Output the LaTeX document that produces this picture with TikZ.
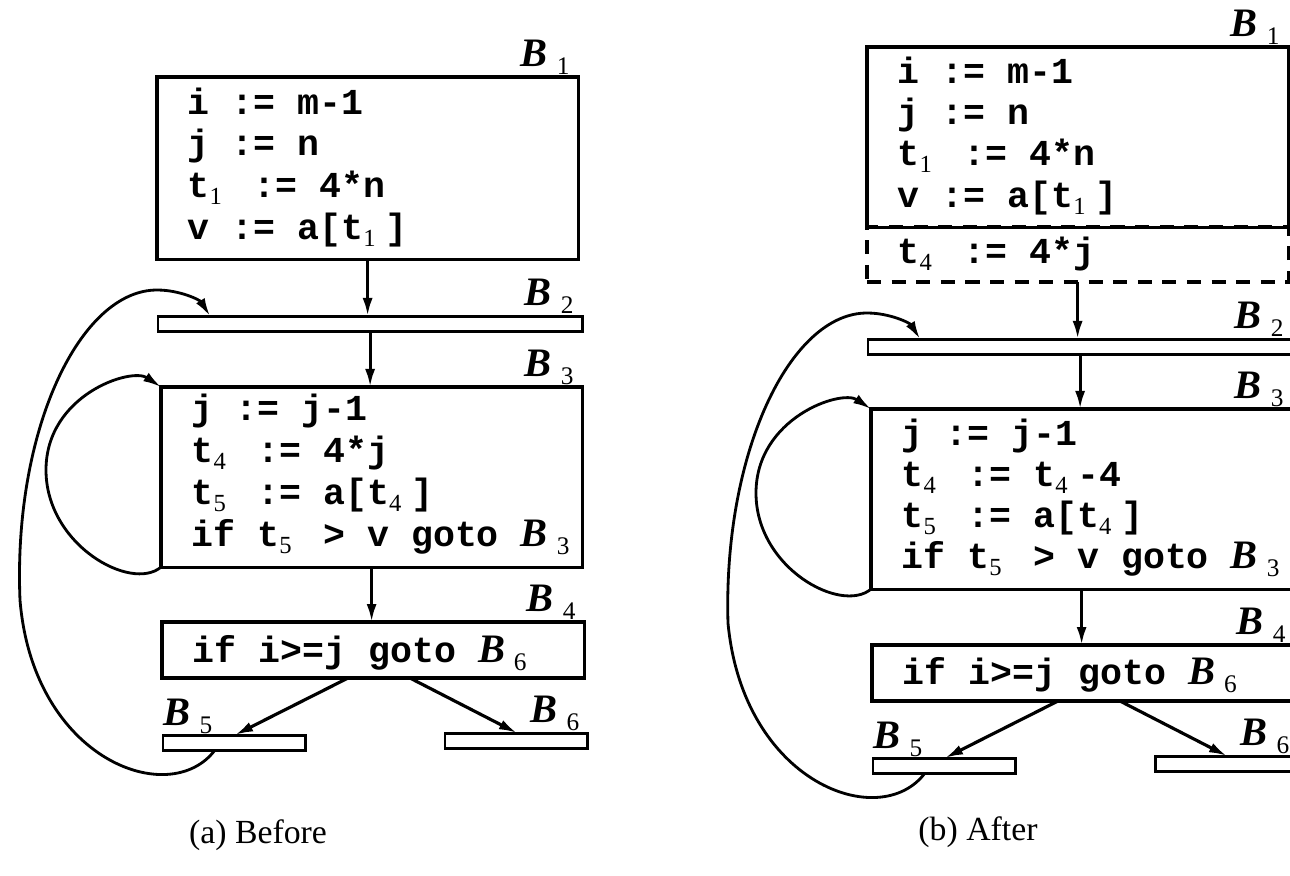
\documentclass[tikz,border=0pt]{standalone}
\usepackage{fontspec}
\setmainfont{Liberation Serif}
\newfontfamily\codefont{Liberation Mono}
\usetikzlibrary{arrows.meta,calc}
\newcommand{\sbs}[1]{\makebox[0.6em][l]{\raisebox{-0.4ex}{\fontsize{7}{7}\selectfont\rmfamily\mdseries #1}}}
\newcommand{\blab}[1]{{\rmfamily\fontsize{11.5}{11.5}\selectfont\bfseries\itshape B\kern0.09cm\upshape\mdseries\raisebox{-0.08cm}{\fontsize{7.2}{7.2}\selectfont #1}}}
\tikzset{
  box/.style={draw, line width=0.9pt, inner sep=0pt, outer sep=0pt, anchor=north west},
  dbox/.style={draw, dashed, dash pattern=on 4pt off 3pt, line width=0.9pt, inner sep=0pt, outer sep=0pt, anchor=north west},
  bar/.style={draw, line width=0.85pt, inner sep=0pt, outer sep=0pt, anchor=north west, minimum height=0.15cm},
  code/.style={anchor=base west, inner sep=0pt, font=\codefont\bfseries\fontsize{10.4}{12}\selectfont},
  labr/.style={anchor=base east, inner sep=0pt},
  labl/.style={anchor=base west, inner sep=0pt},
  arr/.style={line width=0.9pt, -{Latex[length=0.18cm,width=0.1cm]}},
  loop/.style={line width=0.8pt, -{Latex[length=0.18cm,width=0.1cm]}},
  capt/.style={anchor=base, inner sep=0pt, font=\rmfamily\fontsize{9.6}{12}\selectfont},
}
\begin{document}
\begin{tikzpicture}[x=0.01cm,y=-0.01cm]
\useasboundingbox (0,0) rectangle (1290,875);
% ================= (a) Before =================
\node[box, minimum width=4.21cm, minimum height=1.82cm] (A1) at (157,77) {};
\node[code] (A1t1) at (187,114) {i := m-1};
\node[code] (A1t2) at (187,155) {j := n};
\node[code] (A1t3) at (187,197) {t\sbs{1} := 4*n};
\node[code] (A1t4) at (187,239) {v := a[t\sbs{1}]};
\node[labr] (A1l) at ($(A1.north east)+(-8,-11)$) {\blab{1}};

\node[bar, minimum width=4.24cm] (A2) at (158,316) {};
\node[labr] (A2l) at ($(A2.north east)+(-8,-11)$) {\blab{2}};

\node[box, minimum width=4.21cm, minimum height=1.80cm] (A3) at (161,387) {};
\node[code] (A3t1) at (191,420) {j := j-1};
\node[code] (A3t2) at (191,462) {t\sbs{4} := 4*j};
\node[code] (A3t3) at (191,504) {t\sbs{5} := a[t\sbs{4}]};
\node[code] (A3t4) at (191,546) {if t\sbs{5} > v goto \blab{3}};
\node[labr] (A3l) at ($(A3.north east)+(-8,-11)$) {\blab{3}};

\node[box, minimum width=4.22cm, minimum height=0.56cm] (A4) at (162,622) {};
\node[code] (A4t1) at (192,662) {if i>=j goto \blab{6}};
\node[labr] (A4l) at ($(A4.north east)+(-8,-11)$) {\blab{4}};

\node[bar, minimum width=1.42cm] (A5) at (163,735) {};
\node[labl] (A5l) at ($(A5.north west)+(0,-10)$) {\blab{5}};
\node[bar, minimum width=1.42cm] (A6) at (445,733) {};
\node[labr] (A6l) at ($(A6.north east)+(-7,-11)$) {\blab{6}};

\draw[arr] (A1.south) -- (A1.south |- A2.north);
\draw[arr] (A2.south) -- (A2.south |- A3.north);
\draw[arr] (A3.south) -- (A3.south |- A4.north);
\draw[arr] ($(A4.south west)+(186,0)$) -- ($(A5.north west)+(72,0)$);
\draw[arr] ($(A4.south west)+(248,0)$) -- ($(A6.north west)+(72,0)$);

\coordinate (La) at (46,470);
\draw[loop] (A3.south west) .. controls +(-30,25) and +(0,75) .. (La)
  .. controls +(0,-75) and +(-30,-20) .. (A3.north west);
\coordinate (Ga1) at (20,600);
\coordinate (Ga2) at (157,290);
\draw[loop] ($(A5.south west)+(52,0)$) .. controls (170,810) and (33,760) .. (Ga1)
  .. controls (13,430) and (80,290) .. (Ga2)
  .. controls (180,290) and (200,300) .. ($(A2.north west)+(52,0)$);

\node[capt] (capa) at (258,843) {(a) Before};

% ================= (b) After =================
\node[box, minimum width=4.21cm, minimum height=1.80cm] (B1) at (867,47) {};
\node[dbox, minimum width=4.21cm, minimum height=0.55cm] (D1) at (867,227) {};
\node[code] (B1t1) at (897,83) {i := m-1};
\node[code] (B1t2) at (897,124) {j := n};
\node[code] (B1t3) at (897,165) {t\sbs{1} := 4*n};
\node[code] (B1t4) at (897,207) {v := a[t\sbs{1}]};
\node[code] (D1t1) at (897,263) {t\sbs{4} := 4*j};
\node[labr] (B1l) at ($(B1.north east)+(-8,-11)$) {\blab{1}};

\node[bar, minimum width=4.24cm] (B2) at (868,339) {};
\node[labr] (B2l) at ($(B2.north east)+(-8,-11)$) {\blab{2}};

\node[box, minimum width=4.21cm, minimum height=1.80cm] (B3) at (871,409) {};
\node[code] (B3t1) at (901,445) {j := j-1};
\node[code] (B3t2) at (901,486) {t\sbs{4} := t\sbs{4}-4};
\node[code] (B3t3) at (901,527) {t\sbs{5} := a[t\sbs{4}]};
\node[code] (B3t4) at (901,568) {if t\sbs{5} > v goto \blab{3}};
\node[labr] (B3l) at ($(B3.north east)+(-8,-11)$) {\blab{3}};

\node[box, minimum width=4.22cm, minimum height=0.56cm] (B4) at (872,645) {};
\node[code] (B4t1) at (902,684) {if i>=j goto \blab{6}};
\node[labr] (B4l) at ($(B4.north east)+(-8,-11)$) {\blab{4}};

\node[bar, minimum width=1.42cm] (B5) at (873,758) {};
\node[labl] (B5l) at ($(B5.north west)+(0,-10)$) {\blab{5}};
\node[bar, minimum width=1.42cm] (B6) at (1155,756) {};
\node[labr] (B6l) at ($(B6.north east)+(-7,-11)$) {\blab{6}};

\draw[arr] (D1.south) -- (D1.south |- B2.north);
\draw[arr] (B2.south) -- (B2.south |- B3.north);
\draw[arr] (B3.south) -- (B3.south |- B4.north);
\draw[arr] ($(B4.south west)+(186,0)$) -- ($(B5.north west)+(72,0)$);
\draw[arr] ($(B4.south west)+(248,0)$) -- ($(B6.north west)+(72,0)$);

\coordinate (Lb) at (756,493);
\draw[loop] (B3.south west) .. controls +(-30,25) and +(0,75) .. (Lb)
  .. controls +(0,-75) and +(-30,-20) .. (B3.north west);
\coordinate (Gb1) at (728,623);
\coordinate (Gb2) at (867,313);
\draw[loop] ($(B5.south west)+(52,0)$) .. controls (880,833) and (743,783) .. (Gb1)
  .. controls (723,453) and (790,313) .. (Gb2)
  .. controls (890,313) and (910,323) .. ($(B2.north west)+(52,0)$);

\node[capt] (capb) at (978,840) {(b) After};
\end{tikzpicture}
\end{document}
